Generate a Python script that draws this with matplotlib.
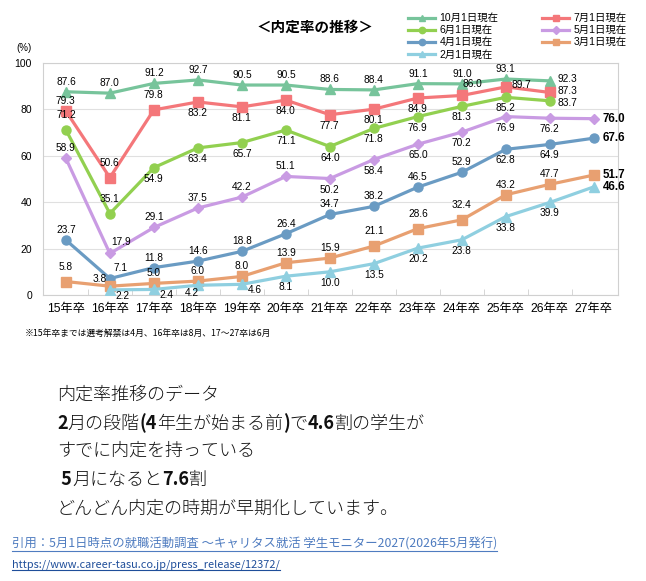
import numpy as np
import matplotlib
matplotlib.use('Agg')
import matplotlib.pyplot as plt
from matplotlib.lines import Line2D

plt.rcParams['font.family'] = ['Liberation Sans', 'Noto Sans CJK JP']

W, H = 646, 581

# data
years = ['15年卒', '16年卒', '17年卒', '18年卒', '19年卒', '20年卒', '21年卒',
         '22年卒', '23年卒', '24年卒', '25年卒', '26年卒', '27年卒']
oct1 = [87.6, 87.0, 91.2, 92.7, 90.5, 90.5, 88.6, 88.4, 91.1, 91.0, 93.1, 92.3, None]
jul1 = [79.3, 50.6, 79.8, 83.2, 81.1, 84.0, 77.7, 80.1, 84.9, 86.0, 89.7, 87.3, None]
jun1 = [71.2, 35.1, 54.9, 63.4, 65.7, 71.1, 64.0, 71.8, 76.9, 81.3, 85.2, 83.7, None]
may1 = [58.9, 17.9, 29.1, 37.5, 42.2, 51.1, 50.2, 58.4, 65.0, 70.2, 76.9, 76.2, 76.0]
apr1 = [23.7, 7.1, 11.8, 14.6, 18.8, 26.4, 34.7, 38.2, 46.5, 52.9, 62.8, 64.9, 67.6]
mar1 = [5.8, 3.8, 5.0, 6.0, 8.0, 13.9, 15.9, 21.1, 28.6, 32.4, 43.2, 47.7, 51.7]
feb1 = [None, 2.2, 2.4, 4.2, 4.6, 8.1, 10.0, 13.5, 20.2, 23.8, 33.8, 39.9, 46.6]

# label placement codes (styling)
oct_pos = ['a'] * 11 + ['ru', None]
jul_pos = ['a', 'A', 'A', 'b', 'b', 'b', 'b', 'b', 'b', 'ar', 'r2', 'rm', None]
jun_pos = ['A', 'A'] + ['b'] * 9 + ['rd', None]
may_pos = ['a', 'ar', 'a', 'a', 'a', 'a', 'b', 'b', 'b', 'b', 'b', 'b', 'R']
apr_pos = ['a', 'ar', 'a', 'a', 'a', 'a', 'a', 'a', 'a', 'a', 'b', 'b', 'R']
mar_pos = ['A', 'al', 'a', 'a', 'a', 'a', 'a', 'A', 'A', 'A', 'a', 'a', 'R']
feb_pos = [None, 'br', 'br', 'bl', 'br', 'b', 'b', 'b', 'b', 'b', 'b', 'b', 'R']

series = [
    ('10月1日現在', oct1, oct_pos, '#77C49B', '^'),
    ('7月1日現在', jul1, jul_pos, '#F4777A', 's'),
    ('6月1日現在', jun1, jun_pos, '#92D050', 'o'),
    ('5月1日現在', may1, may_pos, '#C99BE3', 'D'),
    ('4月1日現在', apr1, apr_pos, '#6A9BC3', 'o'),
    ('3月1日現在', mar1, mar_pos, '#E8A071', 's'),
    ('2月1日現在', feb1, feb_pos, '#8FCFE0', '^'),
]

# offsets in pixels: (dx, dy, ha)
offs = {
    'a': (0, 10, 'center'), 'A': (0, 15, 'center'), 'b': (0, -11, 'center'),
    'ar': (11, 11, 'center'), 'al': (-10, 7, 'center'), 'br': (13, -6, 'center'),
    'bl': (-6, -8, 'center'), 'ru': (8, 2, 'left'), 'rm': (8, 1, 'left'),
    'rd': (8, -2, 'left'), 'r2': (16, 2, 'center'), 'R': (9, 0, 'left'),
}

fig = plt.figure(figsize=(W / 100, H / 100), dpi=100)
ax = fig.add_axes([43 / W, 1 - 295 / H, (618 - 43) / W, (295 - 63) / H])

x = np.arange(len(years))
handles = {}
for name, vals, pos, col, mk in series:
    xs = [i for i, v in enumerate(vals) if v is not None]
    ys = [v for v in vals if v is not None]
    ms = 5.5 if mk == 'D' else 6.5
    h, = ax.plot(xs, ys, color=col, lw=2.3, marker=mk, ms=ms, zorder=3)
    handles[name] = h
    for i, v in enumerate(vals):
        if v is None or pos[i] is None:
            continue
        dx, dy, ha = offs[pos[i]]
        bold = pos[i] == 'R'
        ax.annotate(f'{v:.1f}', (i, v), xytext=(dx * 0.72, dy * 0.72),
                    textcoords='offset points', ha=ha, va='center',
                    fontsize=8.3 if bold else 7.3,
                    fontweight='bold' if bold else 'normal',
                    color='black', zorder=4, annotation_clip=False)

ax.set_xlim(-0.52, 12.55)
ax.set_ylim(0, 100)
ax.set_yticks([0, 20, 40, 60, 80, 100])
ax.set_xticks(x)
ax.set_xticklabels(years, fontsize=8.8)
ax.set_xticks(np.arange(0.5, 12, 1), minor=True)
ax.tick_params(axis='x', which='major', length=0, pad=6)
ax.tick_params(axis='x', which='minor', length=4, direction='in', color='#D0D0D0')
ax.tick_params(axis='y', length=0, labelsize=7.5, pad=8)
ax.grid(axis='y', color='#E0E0E0', lw=0.8)
ax.set_axisbelow(True)
for s in ax.spines.values():
    s.set_color('#D0D0D0')
    s.set_linewidth(0.8)

fig.text(32 / W, 1 - 48 / H, '(%)', fontsize=7, ha='right', va='center')
fig.text(315 / W, 1 - 27 / H, '＜内定率の推移＞', fontsize=10.5, fontweight='bold',
         ha='center', va='center', family=['Noto Sans CJK JP'])

order = ['10月1日現在', '6月1日現在', '4月1日現在', '2月1日現在',
         '7月1日現在', '5月1日現在', '3月1日現在']
fig.legend([handles[n] for n in order], order, ncol=2, loc='upper left',
           bbox_to_anchor=(403 / W, 1 - 8 / H), frameon=False, fontsize=7.5,
           handlelength=2.6, handletextpad=0.4, labelspacing=0.2,
           columnspacing=4.2, borderpad=0, markerscale=0.7)

fig.text(25 / W, 1 - 333 / H, '※15年卒までは選考解禁は4月、16年卒は8月、17～27卒は6月',
         fontsize=6.3, va='center', family=['Noto Sans CJK JP'])

# comment text, pieces chained on one baseline
jp = ['Noto Sans CJK JP']
lines = [
    (400, [('内定率推移のデータ', False)]),
    (429, [('2', True), ('月の段階', False), ('(4', True), ('年生が始まる前', False),
           (')', True), ('で', False), ('4.6', True), ('割の学生が', False)]),
    (456, [('すでに内定を持っている', False)]),
    (485, [(' 5', True), ('月になると', False), ('7.6', True), ('割', False)]),
    (514, [('どんどん内定の時期が早期化しています。', False)]),
]
for base, pieces in lines:
    prev = None
    for txt, bold in pieces:
        kw = dict(fontsize=13, va='baseline', ha='left', family=jp,
                  fontweight='bold' if bold else 'light', color='#111111')
        if prev is None:
            t = fig.text(57 / W, 1 - base / H, txt, **kw)
        else:
            t = ax.annotate(txt, xy=(1, 1 - base / H),
                            xycoords=(prev, 'figure fraction'),
                            annotation_clip=False, **kw)
        prev = t

cite1 = fig.text(12 / W, 1 - 548 / H,
                 '引用：5月1日時点の就職活動調査 ～キャリタス就活 学生モニター2027(2026年5月発行)',
                 fontsize=8.9, va='baseline', color='#4F7CC0', family=jp)
cite2 = fig.text(12 / W, 1 - 567 / H, 'https://www.career-tasu.co.jp/press_release/12372/',
                 fontsize=7.9, va='baseline', color='#1F4E9A', family=jp)

fig.canvas.draw()
r = fig.canvas.get_renderer()
for t in (cite1, cite2):
    bb = t.get_window_extent(r)
    x0, y0 = t.get_position()
    yl = y0 - 2.5 / H
    fig.add_artist(Line2D([bb.x0 / W, bb.x1 / W], [yl, yl], transform=fig.transFigure,
                          color=t.get_color(), lw=0.8))

fig.savefig('out.png', dpi=100, facecolor='white')
